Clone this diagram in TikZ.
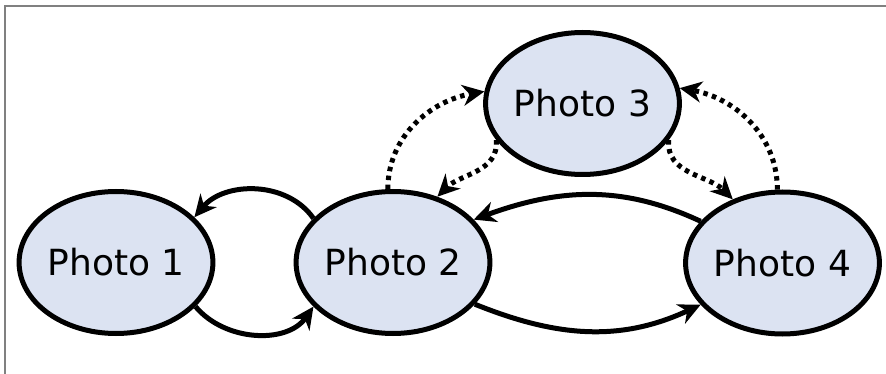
\documentclass[tikz,border=0pt]{standalone}
\usepackage{fontspec}
\setmainfont{DejaVu Sans}
\usetikzlibrary{shapes.geometric,arrows.meta}
\definecolor{photofill}{HTML}{DCE3F2}
\definecolor{framegray}{HTML}{808080}
\tikzset{
  photo/.style={ellipse, draw=black, line width=5pt, fill=photofill,
    minimum width=181pt, minimum height=142pt, inner sep=0pt,
    font=\fontsize{36}{40}\selectfont},
  link/.style={line width=5pt, -{Stealth[length=22pt,width=21pt,inset=7pt]}},
  dotlink/.style={link, dash pattern=on 4.5pt off 4.5pt},
}
\begin{document}
\begin{tikzpicture}[x=1pt,y=-1pt]
\useasboundingbox (0,0) rectangle (886,374);
\draw[framegray, line width=2pt] (5,374) -- (5,6) -- (886,6);
\node[photo] (p1) at (116,262.5) {Photo 1};
\node[photo] (p2) at (393,262.5) {Photo 2};
\node[photo, minimum width=184pt] (p3) at (582.5,103.5) {Photo 3};
\node[photo] (p4) at (782.5,263) {Photo 4};
% solid
\draw[link] (p2.151) to[out=125,in=50] (p1.30);
\draw[link] (p1.-29) to[out=-50,in=-125] (p2.-151);
\draw[link] (p4.153) to[out=155,in=20] (p2.28);
\draw[link] (p2.-27) to[out=-22,in=-155] (p4.-153);
% dotted
\draw[dotlink] (p2.94) to[out=90,in=190] (p3.173);
\draw[dotlink] (p3.203) to[out=-85,in=45] (p2.56);
\draw[dotlink] (p3.-23) to[out=-95,in=135] (p4.128);
\draw[dotlink] (p4.94) to[out=90,in=-10] (p3.9);
\end{tikzpicture}
\end{document}
